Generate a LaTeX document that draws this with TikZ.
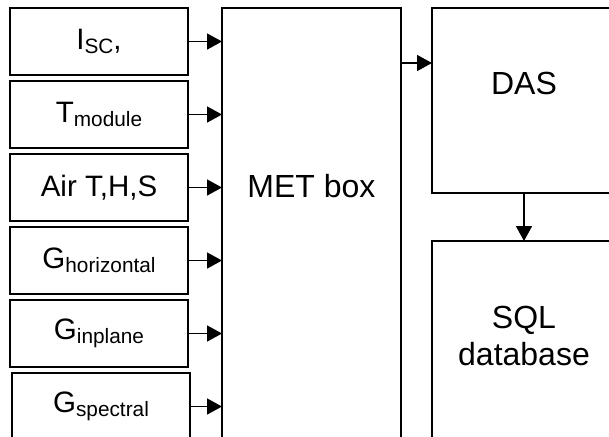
\documentclass[tikz,border=0pt]{standalone}
\usepackage{fontspec}
\setmainfont{Liberation Sans}
\usetikzlibrary{positioning, arrows.meta}
\newcommand{\boxgap}{3pt}
\newcommand{\feedarrow}{-{Triangle[length=7.5pt,width=8pt]}}
\newcommand{\lowsub}[1]{\raisebox{-2pt}{\fontsize{10.4}{12}\selectfont #1}}

\begin{document}
\begin{tikzpicture}[
        sensor/.style={draw, line width=1pt, outer sep=0pt, minimum width=89pt, minimum height=33.5pt, font=\fontsize{14.75}{17}\selectfont},
        unit/.style={draw, line width=1pt, outer sep=0pt, minimum width=89.5pt},
        tag/.style={font=\fontsize{16}{18.5}\selectfont, align=center},
        link/.style={\feedarrow, line width=0.8pt}
    ]
        \useasboundingbox (0,0) rectangle (304.5pt,-218pt);
        \clip (0,0) rectangle (304.5pt,-218pt);

        % sensors on the left
        \node[sensor] (isc) at (49.5pt,-20.75pt) {I\lowsub{SC},};
        \node[sensor, below=\boxgap of isc] (tmod) {T\lowsub{module}};
        \node[sensor, below=\boxgap of tmod] (air) {Air T,H,S};
        \node[sensor, below=\boxgap of air] (ghor) {G\lowsub{horizontal}};
        \node[sensor, below=\boxgap of ghor] (ginp) {G\lowsub{inplane}};
        \node[sensor, below=\boxgap of ginp, xshift=1pt] (gspec) {G\lowsub{spectral}};

        % logger chain
        \node[unit, anchor=north west, minimum height=226pt] (met) at ([xshift=17pt]isc.north east) {};
        \node[tag] (metlabel) at ([yshift=-89pt]met.north) {MET box};
        \node[unit, anchor=north west, minimum width=92pt, minimum height=92.5pt] (das) at ([xshift=15.5pt]met.north east) {};
        \node[tag] (daslabel) at ([yshift=-37.75pt]das.north) {DAS};
        \node[unit, below=24pt of das, minimum width=92pt, minimum height=110pt] (sql) {};
        \node[tag] (sqllabel) at ([yshift=-47.5pt]sql.north) {SQL\\database};

        \draw[link] (isc.east) -- (isc.east -| met.west);
        \draw[link] (tmod.east) -- (tmod.east -| met.west);
        \draw[link] (air.east) -- (air.east -| met.west);
        \draw[link] (ghor.east) -- (ghor.east -| met.west);
        \draw[link] (ginp.east) -- (ginp.east -| met.west);
        \draw[link] (gspec.east) -- (gspec.east -| met.west);

        \coordinate (metout) at ([yshift=-27.5pt]met.north east);
        \draw[link] (metout) -- (metout -| das.west);
        \draw[link] (daslabel |- das.south) -- (daslabel |- sql.north);
    \end{tikzpicture}
\end{document}
